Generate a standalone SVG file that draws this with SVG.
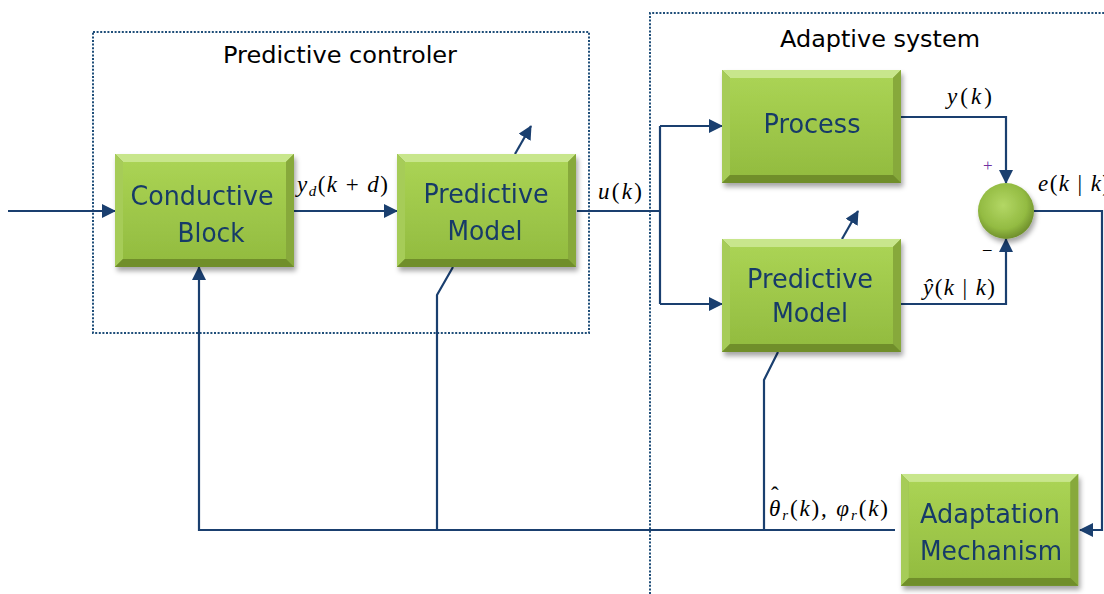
<svg xmlns="http://www.w3.org/2000/svg" width="1104" height="594" viewBox="0 0 1104 594">
<style>
.dot{fill:none;stroke:#1f4e79;stroke-width:2;stroke-dasharray:2 1.6}
.c{fill:none;stroke:#1a3f6f;stroke-width:2.2}
.a{marker-end:url(#ah)}
.bt{font-family:"DejaVu Sans",Verdana,sans-serif;font-size:27px;fill:#183a68}
.tt{font-family:"DejaVu Sans",Verdana,sans-serif;font-size:23px;fill:#000}
.m{font-family:"Liberation Serif","Times New Roman",serif;font-size:23px;fill:#000}
.i{font-style:italic}
.s{font-size:15px;font-style:italic}
</style>
<defs>
<marker id="ah" markerUnits="userSpaceOnUse" markerWidth="14" markerHeight="14" refX="13" refY="7" orient="auto">
<path d="M0,0 L14,7 L0,14 z" fill="#1a3f6f"/>
</marker>
<linearGradient id="fg" x1="0" y1="0" x2="0" y2="1">
<stop offset="0" stop-color="#aad354"/>
<stop offset="1" stop-color="#93bc40"/>
</linearGradient>
<radialGradient id="cg" cx="0.45" cy="0.4" r="0.6">
<stop offset="0" stop-color="#b3d765"/>
<stop offset="0.7" stop-color="#93bb42"/>
<stop offset="1" stop-color="#6f8f2c"/>
</radialGradient>
<filter id="sh" x="-10%" y="-10%" width="125%" height="130%">
<feDropShadow dx="2" dy="4" stdDeviation="2.5" flood-color="#000" flood-opacity="0.35"/>
</filter>
<g id="box">
<rect x="0" y="0" width="179" height="113" fill="#7d9e32"/>
<polygon points="0,0 179,0 171,8 8,8" fill="#c8e68c"/>
<polygon points="0,0 8,8 8,105 0,113" fill="#a6cc58"/>
<polygon points="179,0 179,113 171,105 171,8" fill="#87a93b"/>
<polygon points="0,113 179,113 171,105 8,105" fill="#6f8e2a"/>
<rect x="8" y="8" width="163" height="97" fill="url(#fg)"/>
</g>
</defs>
<rect width="1104" height="594" fill="#fff"/>

<g id="groups">
<rect class="dot" x="93" y="32" width="496" height="301"/>
<path class="dot" d="M650,594 V13 H1106"/>
<text class="tt" x="340" y="63" text-anchor="middle" textLength="234" lengthAdjust="spacingAndGlyphs">Predictive controler</text>
<text class="tt" x="880" y="47" text-anchor="middle" textLength="200" lengthAdjust="spacingAndGlyphs">Adaptive system</text>
</g>

<g id="connectors">
<path class="c a" d="M8,211 H115"/>
<path class="c a" d="M294,211 H397"/>
<path class="c" d="M577,211 H660"/>
<path class="c" d="M660,126 V304"/>
<path class="c a" d="M660,126 H722"/>
<path class="c a" d="M660,304 H722"/>
<path class="c a" d="M901,117 H1006 V183"/>
<path class="c a" d="M901,304 H1006 V239"/>
<path class="c a" d="M1034,211 H1102 V530 H1080"/>
<path class="c a" d="M895,530 H199 V267"/>
<path class="c" d="M437,530 V295 L453,267"/>
<path class="c" d="M764,530 V380 L778,352"/>
<path class="c a" d="M515,154 L531,126"/>
<path class="c a" d="M842,239 L858,211"/>
</g>

<g id="conductive-block" filter="url(#sh)">
<use href="#box" x="115" y="154"/>
<text class="bt" x="202" y="205" text-anchor="middle" textLength="143" lengthAdjust="spacingAndGlyphs">Conductive</text>
<text class="bt" x="211" y="242" text-anchor="middle" textLength="67" lengthAdjust="spacingAndGlyphs">Block</text>
</g>

<g id="predictive-model-1" filter="url(#sh)">
<use href="#box" x="397" y="154"/>
<text class="bt" x="486" y="203" text-anchor="middle" textLength="125" lengthAdjust="spacingAndGlyphs">Predictive</text>
<text class="bt" x="485" y="240" text-anchor="middle" textLength="75" lengthAdjust="spacingAndGlyphs">Model</text>
</g>

<g id="process" filter="url(#sh)">
<use href="#box" x="722" y="70"/>
<text class="bt" x="812" y="133" text-anchor="middle" textLength="97" lengthAdjust="spacingAndGlyphs">Process</text>
</g>

<g id="predictive-model-2" filter="url(#sh)">
<use href="#box" x="722" y="239"/>
<text class="bt" x="810" y="288" text-anchor="middle" textLength="126" lengthAdjust="spacingAndGlyphs">Predictive</text>
<text class="bt" x="810" y="322" text-anchor="middle" textLength="76" lengthAdjust="spacingAndGlyphs">Model</text>
</g>

<g id="adaptation-mechanism" filter="url(#sh)">
<use href="#box" x="901" y="474" transform="translate(901 474) scale(0.99 0.99) translate(-901 -474)"/>
<text class="bt" x="990" y="523" text-anchor="middle" textLength="140" lengthAdjust="spacingAndGlyphs">Adaptation</text>
<text class="bt" x="991" y="560" text-anchor="middle" textLength="142" lengthAdjust="spacingAndGlyphs">Mechanism</text>
</g>

<g id="summer" filter="url(#sh)">
<circle cx="1006" cy="211" r="28" fill="url(#cg)"/>
</g>

<g id="labels">
<text class="m" x="297" y="192" textLength="91" lengthAdjust="spacing"><tspan class="i">y</tspan><tspan class="s" dy="4">d</tspan><tspan dy="-4">(</tspan><tspan class="i">k</tspan> + <tspan class="i">d</tspan>)</text>
<text class="m" x="598" y="199" textLength="44" lengthAdjust="spacing"><tspan class="i">u</tspan>(<tspan class="i">k</tspan>)</text>
<text class="m" x="947" y="104" textLength="45" lengthAdjust="spacing"><tspan class="i">y</tspan>(<tspan class="i">k</tspan>)</text>
<text class="m" x="923" y="295" textLength="72" lengthAdjust="spacing"><tspan class="i">ŷ</tspan>(<tspan class="i">k</tspan> | <tspan class="i">k</tspan>)</text>
<text class="m" x="1038" y="191" textLength="72" lengthAdjust="spacing"><tspan class="i">e</tspan>(<tspan class="i">k</tspan> | <tspan class="i">k</tspan>)</text>
<text class="m" x="769" y="516" textLength="119" lengthAdjust="spacing"><tspan class="i">θ</tspan><tspan class="s" dy="4">r</tspan><tspan dy="-4">(</tspan><tspan class="i">k</tspan>), <tspan class="i">φ</tspan><tspan class="s" dy="4">r</tspan><tspan dy="-4">(</tspan><tspan class="i">k</tspan>)</text>
<text class="m" x="771" y="503" font-size="20">ˆ</text>
<text x="983" y="171" font-family="Liberation Serif,serif" font-size="17" fill="#7030a0">+</text>
<text x="983" y="254" font-family="Liberation Serif,serif" font-size="17" fill="#000">–</text>
</g>
</svg>
